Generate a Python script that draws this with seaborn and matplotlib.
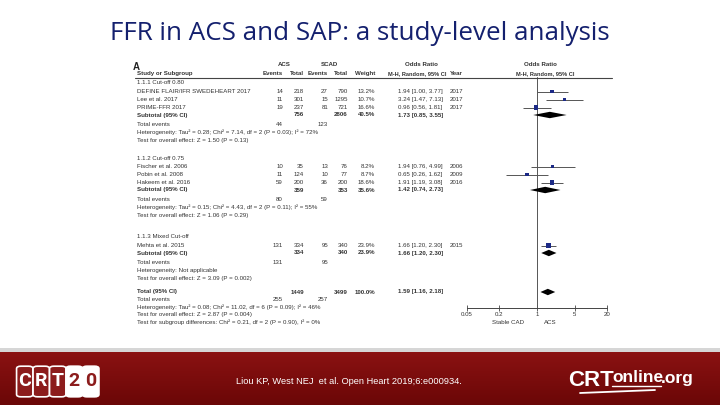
import numpy as np
import pandas as pd
import matplotlib
matplotlib.use('Agg')
import matplotlib.pyplot as plt
import seaborn as sns
from matplotlib.transforms import blended_transform_factory
from matplotlib.patches import Rectangle, FancyBboxPatch
from matplotlib.lines import Line2D
from matplotlib.ticker import FixedLocator, FixedFormatter, NullLocator

# ---- data ----
group_names = ['1.1.1 Cut-off 0.80', '1.1.2 Cut-off 0.75', '1.1.3 Mixed Cut-off']
studies = ['DEFINE FLAIR/IFR SWEDEHEART 2017', 'Lee et al. 2017', 'PRIME-FFR 2017',
           'Fischer et al. 2006', 'Pobin et al. 2008', 'Hakeem et al. 2016',
           'Mehta et al. 2015']
study_group = [0, 0, 0, 1, 1, 1, 2]
acs_events = [14, 11, 19, 10, 11, 59, 131]
acs_total = [218, 301, 237, 35, 124, 200, 334]
scad_events = [27, 15, 81, 13, 10, 36, 95]
scad_total = [790, 1295, 721, 76, 77, 200, 340]
weights = [13.2, 10.7, 16.6, 8.2, 8.7, 18.6, 23.9]
odds = [1.94, 3.24, 0.96, 1.94, 0.65, 1.91, 1.66]
ci_low = [1.00, 1.47, 0.56, 0.76, 0.26, 1.19, 1.20]
ci_high = [3.77, 7.13, 1.81, 4.99, 1.62, 3.08, 2.30]
years = [2017, 2017, 2017, 2006, 2009, 2016, 2015]

sub_acs_total = [756, 359, 334]
sub_scad_total = [2806, 353, 340]
sub_weight = [40.5, 35.6, 23.9]
sub_or = [1.73, 1.42, 1.66]
sub_low = [0.85, 0.74, 1.20]
sub_high = [3.55, 2.73, 2.30]
sub_acs_events = [44, 80, 131]
sub_scad_events = [123, 59, 95]
sub_het = ['Heterogeneity: Tau² = 0.28; Chi² = 7.14, df = 2 (P = 0.03); I² = 72%',
           'Heterogeneity: Tau² = 0.15; Chi² = 4.43, df = 2 (P = 0.11); I² = 55%',
           'Heterogeneity: Not applicable']
sub_test = ['Test for overall effect: Z = 1.50 (P = 0.13)',
            'Test for overall effect: Z = 1.06 (P = 0.29)',
            'Test for overall effect: Z = 3.09 (P = 0.002)']

total_acs, total_scad = 1449, 3499
total_or, total_low, total_high = 1.59, 1.16, 2.18
total_acs_events, total_scad_events = 255, 257
total_lines = ['Heterogeneity: Tau² = 0.08; Chi² = 11.02, df = 6 (P = 0.09); I² = 46%',
               'Test for overall effect: Z = 2.87 (P = 0.004)',
               'Test for subgroup differences: Chi² = 0.21, df = 2 (P = 0.90), I² = 0%']

tick_vals = [0.05, 0.2, 1, 5, 20]
tick_labels = ['0.05', '0.2', '1', '5', '20']

df = pd.DataFrame({'study': studies, 'group': study_group, 'or': odds,
                   'lo': ci_low, 'hi': ci_high, 'w': weights})

# ---- layout (pixel units of a 720x405 slide) ----
W, H = 720, 405
group_top = [83, 158, 237]
total_y = 292
col_acs_ev, col_acs_tot, col_scad_ev, col_scad_tot, col_w = 283, 304, 328, 348, 375
col_or, col_year = 398, 450
txt = '#333333'
fs = 4.4

sns.set_theme(style='white')
plt.rcParams['font.family'] = ['Liberation Sans', 'DejaVu Sans']

fig = plt.figure(figsize=(W / 100, H / 100), dpi=100)
fig.patch.set_facecolor('white')

ax = fig.add_axes([467 / W, 1 - 308 / H, 140 / W, (308 - 77) / H])
ax.set_xscale('log')
ax.set_xlim(0.05, 20)
ax.set_ylim(308, 77)
tr = blended_transform_factory(fig.transFigure, ax.transData)


def put(px, y, s, ha='left', bold=False, size=fs, color=txt):
    ax.text(px / W, y, s, transform=tr, ha=ha, va='center', fontsize=size,
            color=color, fontweight='bold' if bold else 'normal', clip_on=False)


# rows y for studies
row_y = []
for g, top in enumerate(group_top):
    n = 0
    for i in range(len(studies)):
        if study_group[i] == g:
            row_y.append(top + 8.5 + 8 * n)
            n += 1
df['y'] = row_y

# header
put(133, 67, 'A', bold=True, size=7, color='#222222')
put(284, 65, 'ACS', ha='center', bold=True)
put(329, 65, 'SCAD', ha='center', bold=True)
put(421, 65, 'Odds Ratio', ha='center', bold=True)
put(540, 65, 'Odds Ratio', ha='center', bold=True)
put(137, 73.5, 'Study or Subgroup', bold=True)
for px, lab in [(col_acs_ev, 'Events'), (col_acs_tot, 'Total'), (col_scad_ev, 'Events'),
                (col_scad_tot, 'Total'), (col_w, 'Weight')]:
    put(px, 73.5, lab, ha='right', bold=True)
put(446, 73.5, 'M-H, Random, 95% CI', ha='right', bold=True, size=4.1)
put(col_year, 73.5, 'Year', bold=True)
put(545, 73.5, 'M-H, Random, 95% CI', ha='center', bold=True, size=4.1)
fig.add_artist(Line2D([135 / W, 612 / W], [1 - 77.5 / H, 1 - 77.5 / H],
                      color='#444444', lw=0.8))

# study rows
for i, r in df.iterrows():
    y = r['y']
    put(137, y, r['study'])
    put(col_acs_ev, y, str(acs_events[i]), ha='right')
    put(col_acs_tot, y, str(acs_total[i]), ha='right')
    put(col_scad_ev, y, str(scad_events[i]), ha='right')
    put(col_scad_tot, y, str(scad_total[i]), ha='right')
    put(col_w, y, f'{weights[i]:.1f}%', ha='right')
    put(col_or, y, f'{odds[i]:.2f} [{ci_low[i]:.2f}, {ci_high[i]:.2f}]')
    put(col_year, y, str(years[i]))

# subgroup blocks
sub_y = []
for g, top in enumerate(group_top):
    n = study_group.count(g)
    ys = top + 8 + 8 * n
    sub_y.append(ys)
    put(137, top, group_names[g])
    put(137, ys, 'Subtotal (95% CI)', bold=True)
    put(col_acs_tot, ys, str(sub_acs_total[g]), ha='right', bold=True)
    put(col_scad_tot, ys, str(sub_scad_total[g]), ha='right', bold=True)
    put(col_w, ys, f'{sub_weight[g]:.1f}%', ha='right', bold=True)
    put(col_or, ys, f'{sub_or[g]:.2f} [{sub_low[g]:.2f}, {sub_high[g]:.2f}]', bold=True)
    put(137, ys + 9.5, 'Total events')
    put(col_acs_ev, ys + 9.5, str(sub_acs_events[g]), ha='right')
    put(col_scad_ev, ys + 9.5, str(sub_scad_events[g]), ha='right')
    put(137, ys + 17.5, sub_het[g])
    put(137, ys + 25.5, sub_test[g])

# overall
put(137, total_y, 'Total (95% CI)', bold=True)
put(col_acs_tot, total_y, str(total_acs), ha='right', bold=True)
put(col_scad_tot, total_y, str(total_scad), ha='right', bold=True)
put(col_w, total_y, '100.0%', ha='right', bold=True)
put(col_or, total_y, f'{total_or:.2f} [{total_low:.2f}, {total_high:.2f}]', bold=True)
put(137, total_y + 7.5, 'Total events')
put(col_acs_ev, total_y + 7.5, str(total_acs_events), ha='right')
put(col_scad_ev, total_y + 7.5, str(total_scad_events), ha='right')
for k, line in enumerate(total_lines):
    put(137, total_y + 15 + 7.5 * k, line)

# forest marks
ax.axvline(1, color='#555555', lw=0.7, zorder=1)
ax.hlines(df['y'], df['lo'], df['hi'], color='#555555', lw=0.7, zorder=2)
sns.scatterplot(data=df, x='or', y='y', size='w', sizes=(6, 13), marker='s',
                color='#1c2a86', edgecolor='none', legend=False, ax=ax, zorder=3)


def diamond(c, lo, hi, y, h=3.2):
    ax.fill([lo, c, hi, c], [y, y - h, y, y + h], color='black', lw=0, zorder=3)


for g in range(3):
    diamond(sub_or[g], sub_low[g], sub_high[g], sub_y[g])
diamond(total_or, total_low, total_high, total_y)

for s in ['top', 'right', 'left']:
    ax.spines[s].set_visible(False)
ax.spines['bottom'].set_color('#444444')
ax.spines['bottom'].set_linewidth(0.7)
ax.xaxis.set_major_locator(FixedLocator(tick_vals))
ax.xaxis.set_major_formatter(FixedFormatter(tick_labels))
ax.xaxis.set_minor_locator(NullLocator())
ax.tick_params(axis='x', direction='inout', length=4, width=0.6, color='#444444',
               labelsize=fs, labelcolor=txt, pad=1, bottom=True)
ax.set_yticks([])
ax.set_xlabel('')
ax.set_ylabel('')
ax.patch.set_alpha(0)
put(508, 322, 'Stable CAD', ha='center')
put(550, 322, 'ACS', ha='center')

# ---- slide title ----
fig.text(360 / W, 1 - 33 / H, 'FFR in ACS and SAP: a study-level analysis', ha='center',
         va='center', fontsize=18.7, color='#14206e', family=['Open Sans', 'DejaVu Sans'])

# ---- footer band ----
fig.add_artist(Rectangle((0, 0), 1, 1 - 348 / H, transform=fig.transFigure,
                         facecolor='#d6d6d6', edgecolor='none', zorder=0))
grad = np.linspace(0, 1, 50).reshape(-1, 1)
fax = fig.add_axes([0, 0, 1, 1 - 352 / H])
fax.imshow(grad, aspect='auto', cmap=matplotlib.colors.LinearSegmentedColormap.from_list(
    'band', ['#8a1212', '#6b0707']), extent=(0, 1, 0, 1), origin='upper')
fax.set_xlim(0, 1)
fax.set_ylim(0, 1)
fax.axis('off')

# CRT20 logo
letters = ['C', 'R', 'T', '2', '0']
for k, ch in enumerate(letters):
    x0 = 18 + k * 16.5
    fill = '#8c1c1c' if k < 3 else 'white'
    fc = 'white' if k < 3 else '#8c1c1c'
    fig.add_artist(FancyBboxPatch((x0 / W, 1 - 396 / H), 13.5 / W, 29 / H,
                                  boxstyle='round,pad=0.002,rounding_size=0.006',
                                  transform=fig.transFigure, facecolor=fill,
                                  edgecolor='white', lw=1.2, zorder=5))
    fig.text((x0 + 6.75) / W, 1 - 381.5 / H, ch, ha='center', va='center', fontsize=14,
             fontweight='bold', color=fc, zorder=6, family=['Roboto', 'DejaVu Sans'])

fig.text(236 / W, 1 - 382 / H, 'Liou KP, West NEJ  et al. Open Heart 2019;6:e000934.',
         ha='left', va='center', fontsize=6.7, color='white')

fig.text(568 / W, 1 - 380 / H, 'CRT', ha='left', va='center', fontsize=16,
         fontweight='bold', color='white', zorder=6)
fig.text(612 / W, 1 - 378 / H, 'online', ha='left', va='center', fontsize=12.5,
         fontweight='bold', color='white', zorder=6)
fig.text(661 / W, 1 - 378 / H, '.org', ha='left', va='center', fontsize=12.5,
         fontweight='bold', color='white', zorder=6)
fig.add_artist(Line2D([612 / W, 661 / W], [1 - 386 / H, 1 - 386 / H], color='white', lw=1))
fig.add_artist(Line2D([580 / W, 655 / W], [1 - 393 / H, 1 - 390 / H], color='white', lw=1.3))

fig.savefig('out.png', dpi=100)
